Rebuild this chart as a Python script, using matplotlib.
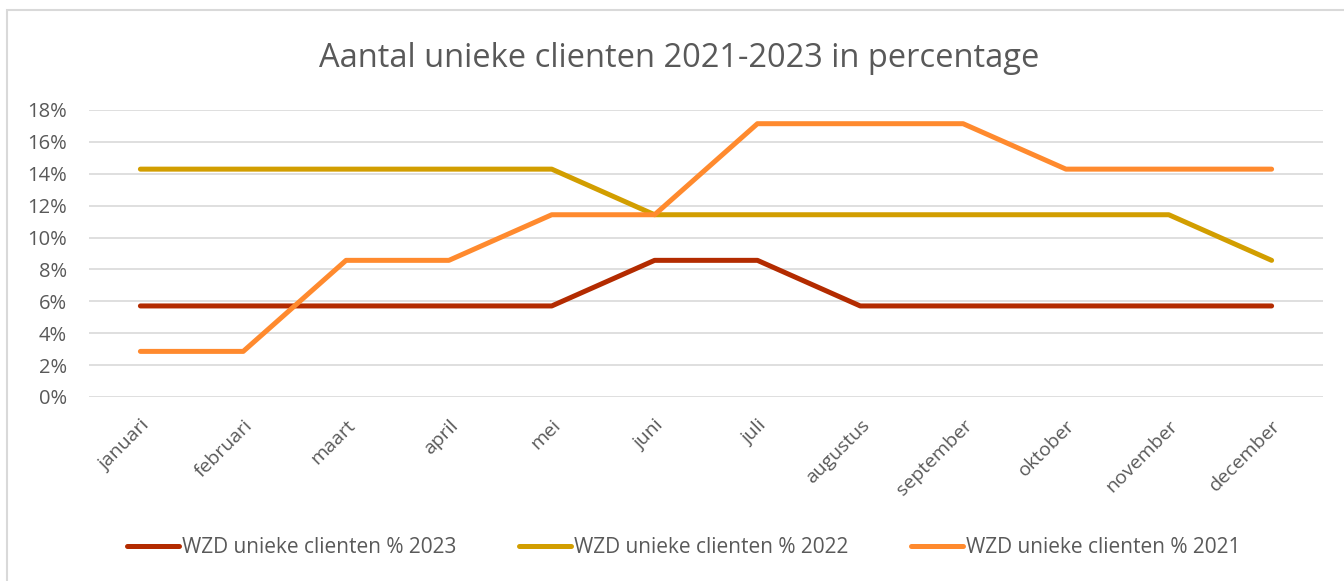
import matplotlib.pyplot as plt
from matplotlib.patches import Rectangle
from matplotlib.ticker import PercentFormatter

# Months (x-axis categories)
months = ['januari', 'februari', 'maart', 'april', 'mei', 'juni',
          'juli', 'augustus', 'september', 'oktober', 'november', 'december']

# Percentages of unique clients per month
wzd_2023 = [5.71, 5.71, 5.71, 5.71, 5.71, 8.57, 8.57, 5.71, 5.71, 5.71, 5.71, 5.71]
wzd_2022 = [14.29, 14.29, 14.29, 14.29, 14.29, 11.43, 11.43, 11.43, 11.43, 11.43, 11.43, 8.57]
wzd_2021 = [2.86, 2.86, 8.57, 8.57, 11.43, 11.43, 17.14, 17.14, 17.14, 14.29, 14.29, 14.29]

series_labels = ['WZD unieke clienten % 2023', 'WZD unieke clienten % 2022',
                 'WZD unieke clienten % 2021']
colors = ['#B32B00', '#D29E00', '#FF8A2E']

text_color = '#595959'
grid_color = '#D9D9D9'
plt.rcParams['font.family'] = ['Open Sans', 'DejaVu Sans']

fig = plt.figure(figsize=(13.44, 5.81), dpi=100)
ax = fig.add_axes([0.0662, 0.3167, 0.9182, 0.494])

# chart frame (cut off at right and bottom)
fig.patches.append(Rectangle((7 / 1344, -0.05), 1.1, 1 - 10 / 581 + 0.05,
                             transform=fig.transFigure, fill=False,
                             edgecolor=grid_color, lw=1.5))

x = range(len(months))
for vals, lab, col in zip([wzd_2023, wzd_2022, wzd_2021], series_labels, colors):
    ax.plot(x, vals, color=col, lw=3.6, solid_capstyle='round',
            solid_joinstyle='round', label=lab)

ax.set_xlim(-0.5, len(months) - 0.5)
ax.set_ylim(0, 18)
ax.set_yticks(range(0, 19, 2))
ax.yaxis.set_major_formatter(PercentFormatter(decimals=0))
ax.grid(axis='y', color=grid_color, lw=1.2)
ax.set_axisbelow(True)
for s in ax.spines.values():
    s.set_visible(False)
ax.tick_params(length=0, colors=text_color)
ax.tick_params(axis='y', pad=16, labelsize=14.5)
ax.set_xticks(list(x))
ax.set_xticklabels(months, rotation=45, ha='right', rotation_mode='anchor')
ax.tick_params(axis='x', pad=14, labelsize=14)

fig.text(0.505, 0.90, 'Aantal unieke clienten 2021-2023 in percentage',
         ha='center', va='center', fontsize=23.5, color=text_color)

fig.legend(loc='center', bbox_to_anchor=(0.5086, 0.057), ncol=3, frameon=False,
           fontsize=15, labelcolor=text_color, handlelength=2.5,
           handletextpad=0.15, columnspacing=3.0)

fig.savefig('out.png', dpi=100)
